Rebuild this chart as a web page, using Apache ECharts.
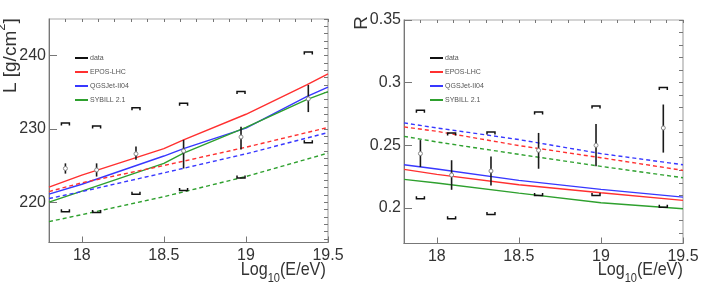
<!DOCTYPE html>
<html>
<head>
<meta charset="utf-8">
<script src="https://cdn.jsdelivr.net/npm/echarts@6/dist/echarts.min.js"></script>
<style>
html,body{margin:0;padding:0;background:#fff;}
#c{width:708px;height:287px;}
</style>
</head>
<body>
<div id="c"></div>
<script>
// ---------- data ----------
const xData = [17.9, 18.09, 18.33, 18.62, 18.97, 19.38];

const L_val   = [224.6, 224.4, 226.6, 227.0, 228.9, 234.1];
const L_lo    = [223.9, 223.5, 225.8, 224.6, 227.2, 232.3];
const L_hi    = [225.3, 225.3, 227.6, 228.5, 230.3, 236.0];
const L_sysUp = [230.8, 230.4, 232.9, 233.5, 235.1, 240.5];
const L_sysLo = [218.7, 218.6, 221.1, 221.6, 223.3, 228.1];

const R_val   = [0.2433, 0.2262, 0.2294, 0.2459, 0.2499, 0.2638];
const R_lo    = [0.2326, 0.2144, 0.2179, 0.2312, 0.2332, 0.2441];
const R_hi    = [0.2541, 0.2380, 0.2409, 0.2598, 0.2669, 0.2825];
const R_sysUp = [0.2780, 0.2598, 0.2606, 0.2766, 0.2814, 0.2961];
const R_sysLo = [0.2072, 0.1912, 0.1947, 0.2099, 0.2099, 0.2005];

const xModelL = [17.8, 18.0, 18.5, 18.62, 19.0, 19.37, 19.5];
const L_epos = [222.05, 223.7, 227.3, 228.5, 232.0, 236.0, 237.5];
const L_qgs  = [221.1, 222.45, 226.3, 227.3, 230.1, 234.4, 235.7];
const L_syb  = [220.0, 221.5, 225.3, 226.7, 230.2, 234.0, 235.1];

const xModel = [17.8, 18.0, 18.5, 19.0, 19.5];
const L_eposD = [221.45, 222.65, 225.0, 227.5, 230.2];
const L_qgsD  = [220.5, 221.45, 224.0, 226.6, 229.5];
const L_sybD  = [217.35, 218.3, 220.75, 223.5, 226.7];

const R_epos  = [0.2307, 0.2267, 0.2184, 0.2120, 0.2059];
const R_qgs   = [0.2344, 0.2310, 0.2219, 0.2147, 0.2085];
const R_syb   = [0.2227, 0.2198, 0.2117, 0.2040, 0.1992];
const R_eposD = [0.2646, 0.2611, 0.2497, 0.2400, 0.2299];
const R_qgsD  = [0.2678, 0.2638, 0.2545, 0.2433, 0.2344];
const R_sybD  = [0.2571, 0.2526, 0.2427, 0.2331, 0.2240];

const xMajor = [18, 18.5, 19, 19.5];
const xMinor = [17.8, 17.9, 18.0, 18.1, 18.2, 18.3, 18.4, 18.5, 18.6, 18.7, 18.8, 18.9, 19.0, 19.1, 19.2, 19.3, 19.4, 19.5];
const yMajorL = [220, 230, 240];
const yMinorL = [215,216,217,218,219,220,221,222,223,224,225,226,227,228,229,230,231,232,233,234,235,236,237,238,239,240,241,242,243,244,245];
const yMajorR = [0.2, 0.25, 0.3, 0.35];
const yMinorR = [0.18,0.19,0.2,0.21,0.22,0.23,0.24,0.25,0.26,0.27,0.28,0.29,0.3,0.31,0.32,0.33,0.34,0.35];

const names = ['data', 'EPOS-LHC', 'QGSJet-II04', 'SYBILL 2.1'];
const colors = {'EPOS-LHC': '#ff3030', 'QGSJet-II04': '#3838ff', 'SYBILL 2.1': '#2ea02e'};

// ---------- helpers ----------
const zip = (xs, ys) => xs.map((x, i) => [x, ys[i]]);
const FONT = "'Liberation Sans', Arial, sans-serif";

function errRender(params, api) {
  const x = api.value(0), v = api.value(1), lo = api.value(2), hi = api.value(3);
  const a = api.coord([x, lo]), b = api.coord([x, hi]), p = api.coord([x, v]);
  return {type: 'group', children: [
    {type: 'line', shape: {x1: a[0], y1: a[1], x2: b[0], y2: b[1]}, style: {stroke: '#1a1a1a', lineWidth: 1.6}},
    {type: 'circle', shape: {cx: p[0], cy: p[1], r: 2}, style: {fill: '#fff', stroke: '#888', lineWidth: 1}}
  ]};
}
function sysRender(params, api) {
  const x = api.value(0), up = api.value(1), lo = api.value(2);
  const a = api.coord([x, up]), b = api.coord([x, lo]);
  const w = 4, h = 2.5;
  return {type: 'group', children: [
    {type: 'polyline', shape: {points: [[a[0]-w, a[1]+h], [a[0]-w, a[1]], [a[0]+w, a[1]], [a[0]+w, a[1]+h]]}, style: {stroke: '#111', fill: null, lineWidth: 1.5}},
    {type: 'polyline', shape: {points: [[b[0]-w, b[1]-h], [b[0]-w, b[1]], [b[0]+w, b[1]], [b[0]+w, b[1]-h]]}, style: {stroke: '#111', fill: null, lineWidth: 1.5}}
  ]};
}
function lineSeries(name, xs, ys, gi, dashed) {
  return {
    name: name, type: 'line', xAxisIndex: gi * 2, yAxisIndex: gi * 2,
    data: zip(xs, ys), symbol: 'none', silent: true, animation: false,
    color: colors[name],
    lineStyle: {color: colors[name], width: 1.4, type: dashed ? [4, 3] : 'solid'},
    z: 2
  };
}

function xAxes(gi) {
  return [
    {gridIndex: gi, type: 'value', min: 17.8, max: 19.5,
     axisLine: {show: true, lineStyle: {color: '#777', width: 1}},
     axisTick: {show: true, inside: true, length: 6, customValues: xMajor, lineStyle: {color: '#777'}},
     axisLabel: {customValues: xMajor, color: '#333', fontSize: 16, fontFamily: FONT, margin: 5},
     splitLine: {show: false}},
    {gridIndex: gi, type: 'value', min: 17.8, max: 19.5,
     axisLine: {show: false},
     axisTick: {show: true, inside: true, length: 3, customValues: xMinor, lineStyle: {color: '#777'}},
     axisLabel: {show: false}, splitLine: {show: false}}
  ];
}
function yAxes(gi, min, max, major, minor) {
  return [
    {gridIndex: gi, type: 'value', min: min, max: max,
     axisLine: {show: true, lineStyle: {color: '#777', width: 1}},
     axisTick: {show: true, inside: true, length: 8, customValues: major, lineStyle: {color: '#777'}},
     axisLabel: {customValues: major, color: '#333', fontSize: 16, fontFamily: FONT, margin: 3},
     splitLine: {show: false}},
    {gridIndex: gi, type: 'value', min: min, max: max,
     axisLine: {show: false},
     axisTick: {show: true, inside: true, length: 4, customValues: minor, lineStyle: {color: '#777'}},
     axisLabel: {show: false}, splitLine: {show: false}}
  ];
}

function legendFor(left) {
  return {
    left: left, top: 48, orient: 'vertical', itemWidth: 13, itemHeight: 2, itemGap: 4,
    icon: 'rect', selectedMode: false,
    textStyle: {fontSize: 7, color: '#555', fontFamily: FONT, lineHeight: 10, padding: [0, 0, 0, -3]},
    data: [
      {name: 'data', itemStyle: {color: '#111'}},
      {name: 'EPOS-LHC', itemStyle: {color: colors['EPOS-LHC']}},
      {name: 'QGSJet-II04', itemStyle: {color: colors['QGSJet-II04']}},
      {name: 'SYBILL 2.1', itemStyle: {color: colors['SYBILL 2.1']}}
    ]
  };
}

const series = [
  lineSeries('EPOS-LHC', xModelL, L_epos, 0, false),
  lineSeries('QGSJet-II04', xModelL, L_qgs, 0, false),
  lineSeries('SYBILL 2.1', xModelL, L_syb, 0, false),
  lineSeries('EPOS-LHC', xModel, L_eposD, 0, true),
  lineSeries('QGSJet-II04', xModel, L_qgsD, 0, true),
  lineSeries('SYBILL 2.1', xModel, L_sybD, 0, true),
  lineSeries('EPOS-LHC', xModel, R_epos, 1, false),
  lineSeries('QGSJet-II04', xModel, R_qgs, 1, false),
  lineSeries('SYBILL 2.1', xModel, R_syb, 1, false),
  lineSeries('EPOS-LHC', xModel, R_eposD, 1, true),
  lineSeries('QGSJet-II04', xModel, R_qgsD, 1, true),
  lineSeries('SYBILL 2.1', xModel, R_sybD, 1, true),
  {name: 'sysL', type: 'custom', xAxisIndex: 0, yAxisIndex: 0, renderItem: sysRender, z: 3, silent: true,
   data: xData.map((x, i) => [x, L_sysUp[i], L_sysLo[i]]), animation: false},
  {name: 'sysR', type: 'custom', xAxisIndex: 2, yAxisIndex: 2, renderItem: sysRender, z: 3, silent: true,
   data: xData.map((x, i) => [x, R_sysUp[i], R_sysLo[i]]), animation: false},
  {name: 'data', type: 'custom', xAxisIndex: 0, yAxisIndex: 0, renderItem: errRender, z: 4, silent: true,
   itemStyle: {color: '#111'},
   data: xData.map((x, i) => [x, L_val[i], L_lo[i], L_hi[i]]), animation: false},
  {name: 'data', type: 'custom', xAxisIndex: 2, yAxisIndex: 2, renderItem: errRender, z: 4, silent: true,
   itemStyle: {color: '#111'},
   data: xData.map((x, i) => [x, R_val[i], R_lo[i], R_hi[i]]), animation: false}
];

const titleRich = {
  a: {fontSize: 19, lineHeight: 19, verticalAlign: 'top', fontFamily: FONT, fill: '#333', color: '#333'},
  b: {fontSize: 13, lineHeight: 13, verticalAlign: 'bottom', fontFamily: FONT, fill: '#333', color: '#333'},
  s: {fontSize: 1, lineHeight: 25, verticalAlign: 'bottom'}
};
const supRich = {
  a: {fontSize: 19, lineHeight: 19, verticalAlign: 'bottom', fontFamily: FONT, fill: '#333', color: '#333'},
  b: {fontSize: 13, lineHeight: 13, verticalAlign: 'top', fontFamily: FONT, fill: '#333', color: '#333'},
  s: {fontSize: 1, lineHeight: 25, verticalAlign: 'bottom'}
};

const chart = echarts.init(document.getElementById('c'), null, {renderer: 'canvas'});
chart.setOption({
  animation: false,
  backgroundColor: '#fff',
  grid: [
    {left: 49, top: 19, width: 279, height: 223.5, show: true, borderColor: '#aaa', borderWidth: 1.2, backgroundColor: 'transparent'},
    {left: 404, top: 20, width: 279, height: 223.5, show: true, borderColor: '#aaa', borderWidth: 1.2, backgroundColor: 'transparent'}
  ],
  xAxis: [...xAxes(0), ...xAxes(1)],
  yAxis: [...yAxes(0, 214.5, 245, yMajorL, yMinorL), ...yAxes(1, 0.1715, 0.35, yMajorR, yMinorR)],
  legend: [legendFor(70), legendFor(425)],
  series: series,
  graphic: [
    {type: 'text', x: 326, y: 285, scaleX: 0.85, originX: 0, originY: 0, style: {text: '{a|Log}{b|10}{a|(E/eV)}{s| }', rich: titleRich, align: 'right', verticalAlign: 'bottom'}},
    {type: 'text', x: 683, y: 285, scaleX: 0.85, originX: 0, originY: 0, style: {text: '{a|Log}{b|10}{a|(E/eV)}{s| }', rich: titleRich, align: 'right', verticalAlign: 'bottom'}},
    {type: 'text', x: 20, y: 18, rotation: Math.PI / 2, style: {text: '{a|L [g/cm}{b|2}{a|]}{s| }', rich: supRich, align: 'right', verticalAlign: 'bottom'}},
    {type: 'text', x: 371, y: 16, rotation: Math.PI / 2, style: {text: 'R', fontSize: 19, fontFamily: FONT, fill: '#333', align: 'right', verticalAlign: 'bottom'}}
  ]
});
</script>
</body>
</html>
